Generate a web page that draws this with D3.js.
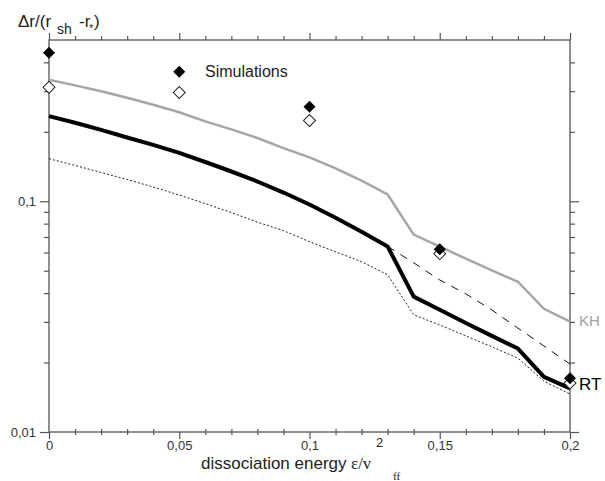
<!DOCTYPE html>
<html>
<head>
<meta charset="utf-8">
<script src="https://cdn.jsdelivr.net/npm/d3@7"></script>
<style>
  body { margin: 0; background: #fff; }
  text { font-family: "Liberation Sans", Arial, sans-serif; }
</style>
</head>
<body>
<svg id="chart" width="605" height="481"></svg>
<script>
// dissociation energy grid (0.01 steps)
const energies = [0, 0.01, 0.02, 0.03, 0.04, 0.05, 0.06, 0.07, 0.08, 0.09, 0.10,
                  0.11, 0.12, 0.13, 0.14, 0.15, 0.16, 0.17, 0.18, 0.19, 0.20]
const kh = [0.336, 0.318, 0.300, 0.281, 0.262, 0.243, 0.222, 0.205, 0.188, 0.170, 0.155,
            0.139, 0.123, 0.107, 0.0717, 0.0636, 0.0564, 0.0502, 0.0448, 0.0342, 0.0301]
const rt = [0.234, 0.219, 0.204, 0.189, 0.1755, 0.162, 0.148, 0.1346, 0.1218, 0.1091, 0.0968,
            0.0849, 0.0738, 0.0637, 0.0386, 0.0339, 0.0297, 0.0261, 0.0230, 0.01734, 0.01545]
const lower = [0.1529, 0.143, 0.1333, 0.1243, 0.1153, 0.1064, 0.0977, 0.0893, 0.0812, 0.0746, 0.0668,
               0.0604, 0.0547, 0.048, 0.0322, 0.0291, 0.0261, 0.0234, 0.0209, 0.0166, 0.0146]
// dashed branch from 0.13 onward
const branchEnergies = [0.13, 0.14, 0.15, 0.16, 0.17, 0.18, 0.19, 0.20]
const branch = [0.0637, 0.0541, 0.0456, 0.0397, 0.0338, 0.0282, 0.0236, 0.0197]

// simulations
const simEnergies = [0, 0.05, 0.1, 0.15, 0.2]
const simFilled = [0.44, 0.364, 0.257, 0.062, 0.0171]
const simOpen = [0.312, 0.296, 0.224, 0.0593, 0.0163]

const xMajor = [0, 0.05, 0.1, 0.15, 0.2]
const xMajorLabels = ['0', '0,05', '0,1', '0,15', '0,2']
const yMajor = [0.01, 0.1]
const yMajorLabels = ['0,01', '0,1']

const svg = d3.select('#chart')
const m = {left: 49, right: 570, top: 40, bottom: 432}

const x = d3.scaleLinear().domain([0, 0.2]).range([m.left, m.right])
const y = d3.scaleLog().domain([0.01, 0.5]).range([m.bottom, m.top])

const axisColor = '#555'
const xMinor = d3.range(0, 0.2001, 0.01).filter(v => !xMajor.some(t => Math.abs(t - v) < 1e-9))
const yMinor = [0.02, 0.03, 0.04, 0.05, 0.06, 0.07, 0.08, 0.09, 0.2, 0.3, 0.4]

const axisStyle = (g) => {
    g.select('.domain').remove()
    g.selectAll('line').attr('stroke', axisColor).attr('stroke-width', 1.2)
    g.selectAll('text').attr('fill', '#333').attr('font-size', 13)
        .attr('font-family', '"Liberation Sans", Arial, sans-serif')
}

// frame
svg.append('rect')
    .attr('x', m.left).attr('y', m.top)
    .attr('width', m.right - m.left).attr('height', m.bottom - m.top)
    .attr('fill', 'none').attr('stroke', axisColor).attr('stroke-width', 1.3)

// bottom
svg.append('g').attr('transform', `translate(0,${m.bottom})`)
    .call(d3.axisBottom(x).tickValues(xMajor).tickSize(7).tickPadding(2)
        .tickFormat((d, i) => xMajorLabels[i]))
    .call(axisStyle)
svg.append('g').attr('transform', `translate(0,${m.bottom - 3})`)
    .call(d3.axisBottom(x).tickValues(xMinor).tickSize(6).tickFormat(''))
    .call(axisStyle)
// top
svg.append('g').attr('transform', `translate(0,${m.top})`)
    .call(d3.axisTop(x).tickValues(xMajor).tickSize(7).tickFormat(''))
    .call(axisStyle)
svg.append('g').attr('transform', `translate(0,${m.top})`)
    .call(d3.axisTop(x).tickValues(xMinor).tickSize(4).tickFormat(''))
    .call(axisStyle)
// left
svg.append('g').attr('transform', `translate(${m.left},0)`)
    .call(d3.axisLeft(y).tickValues(yMajor).tickSize(9).tickPadding(4)
        .tickFormat((d, i) => yMajorLabels[i]))
    .call(axisStyle)
svg.append('g').attr('transform', `translate(${m.left},0)`)
    .call(d3.axisLeft(y).tickValues(yMinor).tickSize(5).tickFormat(''))
    .call(axisStyle)
// right
svg.append('g').attr('transform', `translate(${m.right},0)`)
    .call(d3.axisRight(y).tickValues(yMajor).tickSize(9).tickFormat(''))
    .call(axisStyle)
svg.append('g').attr('transform', `translate(${m.right},0)`)
    .call(d3.axisRight(y).tickValues(yMinor).tickSize(5).tickFormat(''))
    .call(axisStyle)

// lines
const line = d3.line().x(d => x(d[0])).y(d => y(d[1]))
const zipped = (xs, ys) => xs.map((v, i) => [v, ys[i]])

svg.append('path').datum(zipped(energies, kh))
    .attr('d', line).attr('fill', 'none')
    .attr('stroke', '#a6a6a6').attr('stroke-width', 2.5)
svg.append('path').datum(zipped(energies, lower))
    .attr('d', line).attr('fill', 'none')
    .attr('stroke', '#222').attr('stroke-width', 1).attr('stroke-dasharray', '2,2')
svg.append('path').datum(zipped(branchEnergies, branch))
    .attr('d', line).attr('fill', 'none')
    .attr('stroke', '#111').attr('stroke-width', 1).attr('stroke-dasharray', '8,7')
svg.append('path').datum(zipped(energies, rt))
    .attr('d', line).attr('fill', 'none')
    .attr('stroke', '#000').attr('stroke-width', 4).attr('stroke-linejoin', 'round')

// simulation markers
const diamond = d3.symbol().type(d3.symbolSquare).size(72)
svg.selectAll('.open')
    .data(zipped(simEnergies, simOpen))
    .join('path')
    .attr('class', 'open')
    .attr('d', diamond)
    .attr('transform', d => `translate(${x(d[0])},${y(d[1])}) rotate(45)`)
    .attr('fill', '#fff').attr('stroke', '#222').attr('stroke-width', 1)
svg.selectAll('.filled')
    .data(zipped(simEnergies, simFilled))
    .join('path')
    .attr('class', 'filled')
    .attr('d', diamond)
    .attr('transform', d => `translate(${x(d[0])},${y(d[1])}) rotate(45)`)
    .attr('fill', '#000')

// labels
svg.append('text').attr('x', 205).attr('y', 77)
    .attr('font-size', 16).attr('fill', '#222').text('Simulations')
svg.append('text').attr('x', 579).attr('y', 326)
    .attr('font-size', 15).attr('fill', '#a0a0a0').text('KH')
svg.append('text').attr('x', 579).attr('y', 390)
    .attr('font-size', 17).attr('fill', '#000').text('RT')

const title = svg.append('text').attr('font-size', 17).attr('fill', '#222')
title.append('tspan').attr('x', 18).attr('y', 27).text('Δr/(r')
title.append('tspan').attr('x', 57).attr('y', 34).attr('font-size', 14).text('sh')
title.append('tspan').attr('x', 79).attr('y', 27).text('-r')
title.append('tspan').attr('x', 89).attr('y', 32).attr('font-size', 11).text('*')
title.append('tspan').attr('x', 94).attr('y', 27).text(')')

const xlabel = svg.append('text').attr('font-size', 17).attr('fill', '#222')
xlabel.append('tspan').attr('x', 201).attr('y', 469).text('dissociation energy')
xlabel.append('tspan').attr('x', 351).attr('y', 469)
    .attr('font-family', 'Liberation Serif, serif').attr('font-size', 17).text('ε/v')
xlabel.append('tspan').attr('x', 376).attr('y', 447).attr('font-size', 13).text('2')
xlabel.append('tspan').attr('x', 393).attr('y', 480)
    .attr('font-family', 'Liberation Serif, serif').attr('font-size', 11).text('ff')
</script>
</body>
</html>
